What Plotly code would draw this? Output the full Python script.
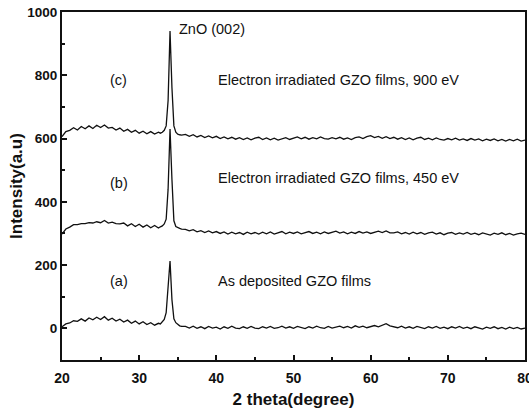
import plotly.graph_objects as go

two_theta = [
    20.0, 20.5, 21.0, 21.5, 22.0, 22.5, 23.0, 23.5, 24.0, 24.5, 25.0, 25.5, 26.0, 26.5,
    27.0, 27.5, 28.0, 28.5, 29.0, 29.5, 30.0, 30.5, 31.0, 31.5, 32.0, 32.5,
    32.75, 33.0, 33.25, 33.5, 33.75, 34.0, 34.25, 34.5, 34.75, 35.0, 35.25, 35.5,
    36.0, 36.5, 37.0, 37.5, 38.0, 38.5, 39.0, 39.5,
    40.0, 40.5, 41.0, 41.5, 42.0, 42.5, 43.0, 43.5, 44.0, 44.5, 45.0, 45.5, 46.0, 46.5, 47.0, 47.5, 48.0, 48.5, 49.0, 49.5,
    50.0, 50.5, 51.0, 51.5, 52.0, 52.5, 53.0, 53.5, 54.0, 54.5, 55.0, 55.5, 56.0, 56.5, 57.0, 57.5, 58.0, 58.5, 59.0, 59.5,
    60.0, 60.5, 61.0, 61.5, 62.0, 62.5, 63.0, 63.5, 64.0, 64.5, 65.0, 65.5, 66.0, 66.5, 67.0, 67.5, 68.0, 68.5, 69.0, 69.5,
    70.0, 70.5, 71.0, 71.5, 72.0, 72.5, 73.0, 73.5, 74.0, 74.5, 75.0, 75.5, 76.0, 76.5, 77.0, 77.5, 78.0, 78.5, 79.0, 79.5,
    80.0,
]

as_deposited = [
    5, 14, 17, 24, 22, 30, 23, 33, 27, 35, 28, 37, 26, 32,
    23, 29, 20, 26, 16, 23, 14, 21, 12, 18, 10, 16,
    14, 20, 28, 50, 150, 213, 90, 30, 18, 12, 8, 6,
    6, 1, 7, 0, 5, -1, 6, 1,
    4, -2, 5, 0, 7, 1, -1, 5, 0, 6, 1, -1, 5, 1, 6, 0, 2, 7, 1, 5,
    0, 6, 2, -1, 5, 1, 7, 2, 0, 6, 1, 5, 7, 2, 6, 1, 8, 3, 7, 2,
    6, 9, 5, 11, 15, 8, 6, 2, 7, 1, 5, 0, 6, 2, -1, 5, 1, 6, 0, 4,
    -1, 5, 1, 6, 0, 4, -1, 5, 1, -2, 4, 0, 5, -1, 3, -2, 4, -1, 3, -2,
    1,
]

irradiated_450 = [
    298, 314, 320, 328, 328, 331, 331, 334, 333, 337, 334, 341, 333, 336,
    331, 330, 333, 324, 331, 322, 329, 320, 327, 318, 325, 317,
    321, 324, 330, 345, 440, 630, 470, 340, 322, 318, 316, 314,
    313, 308, 312, 305, 309, 303, 308, 302,
    306, 300, 305, 298, 304, 299, 303, 297, 304, 299, 303, 298, 304, 299, 305, 298, 303, 306, 299, 304,
    300, 305, 299, 303, 306, 300, 304, 299, 305, 300, 304, 307, 301, 305, 299, 304, 300, 306, 301, 305,
    300, 304, 307, 303, 308, 302, 302, 305, 299, 303, 298, 304, 299, 303, 297, 302, 304, 298, 302, 296,
    301, 303, 297, 302, 298, 303, 297, 301, 296, 302, 298, 295, 301, 297, 302, 296, 300, 295, 299, 301,
    297,
]

irradiated_900 = [
    606, 622, 626, 634, 627, 638, 631, 640, 632, 642, 635, 643, 633, 635,
    627, 633, 623, 629, 620, 626, 617, 623, 615, 622, 614, 620,
    617, 620, 626, 640, 720, 940, 760, 640, 620, 614, 612, 611,
    613, 607, 612, 605, 610, 603, 608, 602,
    607, 600, 605, 599, 604, 598, 603, 597, 602, 596, 601, 604, 597, 602, 596, 601, 595, 600, 603, 597,
    602, 605, 599, 604, 598, 603, 599, 605, 600, 598, 603, 599, 604, 598, 602, 597, 603, 605, 600, 606,
    609, 603, 607, 601, 606, 600, 604, 598, 603, 597, 602, 596, 601, 604, 597, 601, 596, 602, 597, 595,
    600, 596, 601, 595, 599, 594, 600, 595, 599, 593, 598, 594, 599, 593, 597, 592, 597, 593, 598, 592,
    595,
]

x_ticks = [20, 30, 40, 50, 60, 70, 80]
y_ticks = [0, 200, 400, 600, 800, 1000]

FONT = "Liberation Sans"
ink = "#111111"

fig = go.Figure()
for ys in (as_deposited, irradiated_450, irradiated_900):
    fig.add_trace(go.Scatter(x=two_theta, y=ys, mode="lines",
                             line=dict(color=ink, width=1.3), showlegend=False,
                             hoverinfo="skip"))

labels = [
    (34.9, 945, "ZnO (002)"),
    (25.9, 785, "(c)"),
    (40.0, 785, "Electron irradiated GZO films, 900 eV"),
    (25.9, 460, "(b)"),
    (40.0, 475, "Electron irradiated GZO films, 450 eV"),
    (25.9, 150, "(a)"),
    (40.0, 150, "As deposited GZO films"),
]
for x, y, t in labels:
    fig.add_annotation(x=x, y=y, text=t, showarrow=False, xanchor="left",
                       yanchor="middle", font=dict(family=FONT, size=14.5, color=ink))

fig.update_layout(
    width=529, height=409,
    margin=dict(l=62, r=4, t=12, b=49),
    plot_bgcolor="white", paper_bgcolor="white",
    font=dict(family=FONT, color=ink),
)
fig.update_xaxes(
    range=[20, 80], tickvals=x_ticks, ticktext=[str(v) for v in x_ticks],
    ticks="inside", ticklen=5, tickwidth=1.5, tickcolor=ink,
    minor=dict(ticks="inside", ticklen=3, dtick=5, tickcolor=ink),
    showline=True, linewidth=2, linecolor=ink, mirror=True, showgrid=False, zeroline=False,
    tickfont=dict(family=FONT, size=14, weight="bold"), ticklabeloverflow="allow",
    ticklabelstandoff=4, automargin=False,
    title=dict(text="2 theta(degree)", font=dict(family=FONT, size=17, weight="bold"), standoff=8),
)
fig.update_yaxes(
    range=[-100, 1000], tickvals=y_ticks, ticktext=[str(v) for v in y_ticks],
    ticks="inside", ticklen=5, tickwidth=1.5, tickcolor=ink,
    minor=dict(ticks="inside", ticklen=3, dtick=100, tickcolor=ink),
    showline=True, linewidth=2, linecolor=ink, mirror=True, showgrid=False, zeroline=False,
    tickfont=dict(family=FONT, size=13.5, weight="bold"), ticklabeloverflow="allow",
    automargin=False,
    title=dict(text="Intensity(a.u)", font=dict(family=FONT, size=17, weight="bold"), standoff=0),
)

# drop the page's default body margin so the figure fills the window exactly
fig.write_html("out.html", config={"displayModeBar": False},
               post_script="document.body.style.margin='0';")
